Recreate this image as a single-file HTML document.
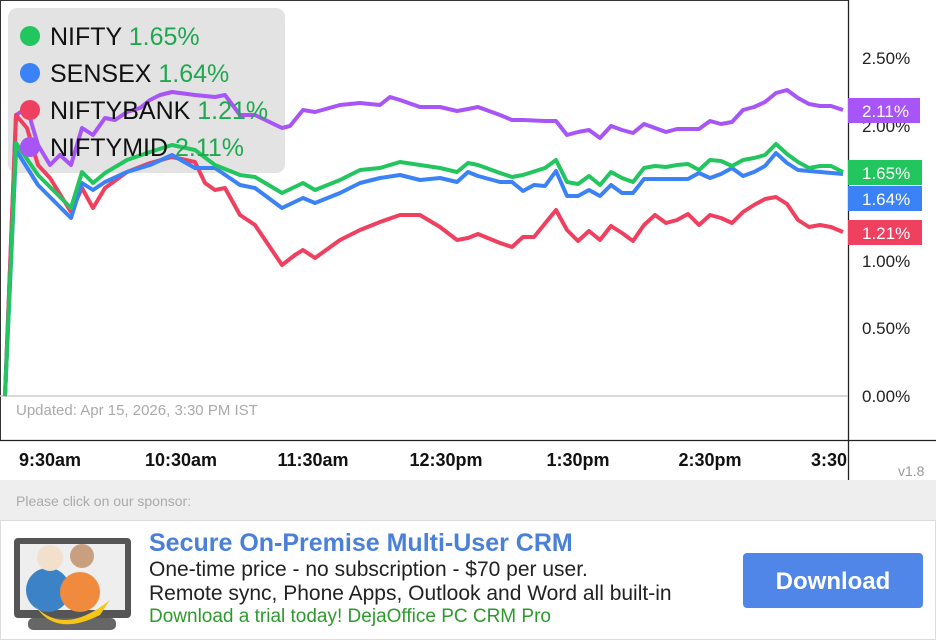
<!DOCTYPE html>
<html><head><meta charset="utf-8"><style>
body{margin:0;width:936px;height:640px;overflow:hidden;background:#fff;font-family:"Liberation Sans",sans-serif}
</style></head><body>
<svg width="936" height="640" viewBox="0 0 936 640" style="position:absolute;left:0;top:0">
<rect x="0" y="0" width="936" height="480" fill="#fff"/>
<line x1="0" y1="0.5" x2="848" y2="0.5" stroke="#333" stroke-width="1"/>
<line x1="0.5" y1="0" x2="0.5" y2="440" stroke="#333"/>
<line x1="848.5" y1="0" x2="848.5" y2="480" stroke="#222" stroke-width="1.3"/>
<line x1="0" y1="440.5" x2="936" y2="440.5" stroke="#222" stroke-width="1.3"/>
<line x1="0" y1="396" x2="848" y2="396" stroke="#ccc" stroke-width="1.5"/>
<g font-size="17" fill="#222">
<text x="862" y="64">2.50%</text><text x="862" y="132">2.00%</text>
<text x="862" y="267">1.00%</text><text x="862" y="334">0.50%</text><text x="862" y="402">0.00%</text>
</g>
<text x="16" y="415" font-size="15" fill="#aaa">Updated: Apr 15, 2026, 3:30 PM IST</text>
<g font-family="'Liberation Sans Narrow','Liberation Sans',sans-serif" font-weight="bold" font-size="18" fill="#111" text-anchor="middle">
<text x="50" y="466">9:30am</text><text x="181" y="466">10:30am</text><text x="313" y="466">11:30am</text>
<text x="446" y="466">12:30pm</text><text x="578" y="466">1:30pm</text><text x="710" y="466">2:30pm</text><text x="829" y="466">3:30</text>
</g>
<text x="898" y="476" font-size="14" fill="#999">v1.8</text>
<rect x="8" y="8" width="277" height="165" rx="9" fill="#e3e3e3"/>
<g fill="none" stroke-width="4" stroke-linejoin="round">
<polyline stroke="#a855f7" points="5,396 16,115 27,108 38,145 50,165 60,155 71,165 82,128 93,135 105,118 115,120 127,112 140,108 150,100 160,95 172,92 195,95 215,97 225,95 240,115 255,115 282,128 290,126 303,110 315,112 340,105 360,103 380,105 390,97 400,100 420,107 440,107 457,111 468,109 478,107 500,115 512,120 523,120 545,121 556,121 567,135 578,132 589,130 600,138 611,126 622,130 633,133 644,124 655,128 666,132 677,129 688,129 699,129 710,121 721,124 732,122 743,110 754,107 765,102 776,93 787,90 798,98 809,104 820,106 831,106 843,110"/>
<polyline stroke="#ef4060" points="5,396 16,115 27,128 38,165 50,178 71,212 82,188 93,208 105,188 127,172 150,163 172,157 195,162 205,183 215,190 225,188 240,215 255,225 282,265 295,255 303,250 315,258 340,240 360,230 380,222 400,215 420,215 440,227 457,240 468,238 478,234 500,243 512,247 523,237 534,237 556,210 567,230 578,241 589,231 600,240 611,226 622,233 633,241 644,225 655,215 666,223 677,220 688,214 699,225 710,215 721,218 732,223 743,212 754,205 765,199 776,197 787,204 798,220 809,227 820,225 831,227 843,232"/>
<polyline stroke="#3b82f6" points="5,396 16,150 38,185 71,218 82,183 93,190 105,182 127,172 150,165 172,155 195,168 215,168 240,185 255,188 282,208 303,198 315,203 340,193 360,183 380,178 400,175 420,180 440,178 457,182 468,172 478,176 500,182 512,182 523,191 534,185 545,186 556,171 567,196 578,196 589,190 600,196 611,185 622,193 633,193 644,179 655,179 677,179 688,179 699,173 710,178 721,174 732,168 743,176 754,172 765,166 776,153 787,163 798,170 809,171 843,174"/>
<polyline stroke="#22c55e" points="5,396 16,143 38,175 71,208 82,172 93,183 105,173 127,160 150,152 172,145 195,150 215,165 240,175 255,177 282,193 303,183 315,190 340,180 360,170 380,168 400,162 420,165 440,168 457,172 468,163 478,165 500,173 512,177 523,175 545,168 556,160 567,182 578,184 589,176 600,185 611,172 622,178 633,182 644,168 655,166 666,167 677,165 688,164 699,170 710,160 721,161 732,166 743,160 754,158 765,155 776,144 787,154 798,162 809,168 820,166 831,166 843,172"/>
</g>
<circle cx="30" cy="36" r="10" fill="#22c55e"/><circle cx="30" cy="73" r="10" fill="#3b82f6"/>
<circle cx="30" cy="110" r="10" fill="#ef4060"/><circle cx="30" cy="147" r="10" fill="#a855f7"/>
<g font-size="25" fill="#111">
<text x="50" y="45">NIFTY <tspan fill="#1fa84f">1.65%</tspan></text>
<text x="50" y="82">SENSEX <tspan fill="#1fa84f">1.64%</tspan></text>
<text x="50" y="119">NIFTYBANK <tspan fill="#1fa84f">1.21%</tspan></text>
<text x="50" y="156">NIFTYMID <tspan fill="#1fa84f">2.11%</tspan></text>
</g>
<g font-size="17" fill="#fff">
<rect x="848" y="98" width="72" height="25" fill="#a855f7"/><text x="862" y="117">2.11%</text>
<rect x="848" y="160" width="74" height="25" fill="#22c55e"/><text x="862" y="179">1.65%</text>
<rect x="848" y="186" width="74" height="25" fill="#3b82f6"/><text x="862" y="205">1.64%</text>
<rect x="848" y="220" width="74" height="25" fill="#ef4060"/><text x="862" y="239">1.21%</text>
</g>
<rect x="0" y="480" width="936" height="160" fill="#eee"/>
<text x="16" y="506" font-size="14" fill="#aaa">Please click on our sponsor:</text>
<rect x="0.5" y="520.5" width="935" height="119" fill="#fff" stroke="#ddd"/>
<rect x="14" y="538" width="117" height="80" rx="4" fill="#555"/>
<rect x="20" y="544" width="105" height="66" fill="#eee"/>
<rect x="28" y="618" width="88" height="12" rx="5" fill="#666"/>
<circle cx="48" cy="590" r="22" fill="#3b82c6"/><circle cx="80" cy="592" r="20" fill="#f08a3c"/>
<circle cx="50" cy="558" r="13" fill="#f3e0cc"/><circle cx="82" cy="556" r="12" fill="#c8a080"/>
<path d="M30 600 Q60 640 110 600 L100 615 Q60 635 40 612Z" fill="#f5c518"/>
<g font-family="'Liberation Sans Narrow','Liberation Sans',sans-serif">
<text x="149" y="551" font-size="25" font-weight="bold" fill="#4a80d8">Secure On-Premise Multi-User CRM</text>
<text x="149" y="576" font-size="21" fill="#222">One-time price - no subscription - $70 per user.</text>
<text x="149" y="600" font-size="21" fill="#222">Remote sync, Phone Apps, Outlook and Word all built-in</text>
<text x="149" y="622" font-size="19" fill="#2e9a2e">Download a trial today! DejaOffice PC CRM Pro</text>
</g>
<rect x="743" y="553" width="180" height="55" rx="4" fill="#4f86e8"/>
<text x="833" y="589" font-size="24" font-weight="bold" fill="#fff" text-anchor="middle">Download</text>
</svg>
</body></html>
